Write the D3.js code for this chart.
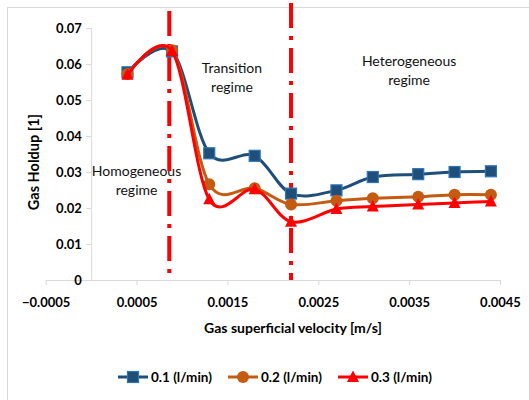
<!DOCTYPE html>
<html><head><meta charset="utf-8">
<script src="https://cdn.jsdelivr.net/npm/d3@7"></script>
<style>body{margin:0;background:#fff}svg{display:block}text{font-family:Lato,"Open Sans",sans-serif}</style>
</head><body>
<script>
const velocity = [0.0004, 0.00089, 0.0013, 0.0018, 0.0022, 0.0027, 0.0031, 0.0036, 0.0040, 0.0044];
const flow01 = [0.0577, 0.0635, 0.0352, 0.0345, 0.0240, 0.0249, 0.0286, 0.0294, 0.0300, 0.0302];
const flow02 = [0.0572, 0.0638, 0.0266, 0.0255, 0.0210, 0.0220, 0.0227, 0.0231, 0.0237, 0.0237];
const flow03 = [0.0570, 0.0636, 0.0224, 0.0252, 0.0162, 0.0197, 0.0204, 0.0210, 0.0214, 0.0218];
const seriesNames = ["0.1 (l/min)", "0.2 (l/min)", "0.3 (l/min)"];
const xTicks = [-0.0005, 0.0005, 0.0015, 0.0025, 0.0035, 0.0045];
const yTicks = [0, 0.01, 0.02, 0.03, 0.04, 0.05, 0.06, 0.07];
const boundaries = [0.00086, 0.0022];
const regimeLabels = [
  {x: 0.0005, y: 0.029, lines: ["Homogeneous", "regime"]},
  {x: 0.00155, y: 0.0575, lines: ["Transition", "regime"]},
  {x: 0.0035, y: 0.0595, lines: ["Heterogeneous", "regime"]}
];

const W = 529, H = 400;
const svg = d3.select("body").append("svg").attr("width", W).attr("height", H);
svg.append("rect").attr("x", 7.5).attr("y", 7.5).attr("width", 600).attr("height", 600)
  .attr("fill", "none").attr("stroke", "#d9d9d9");

const x = d3.scaleLinear().domain([-0.0005, 0.0045]).range([45.7, 500]);
const y = d3.scaleLinear().domain([0, 0.07]).range([280, 28]);

// axes
const xAxis = svg.append("g").attr("transform", `translate(0,${y(0)})`)
  .call(d3.axisBottom(x).tickValues(xTicks).tickSize(5).tickFormat(d => d3.format("")(+d.toFixed(4))));
xAxis.select(".domain").attr("stroke", "#d9d9d9").attr("d", `M${x(-0.0005)},0.5H${x(0.0045)}`);
xAxis.selectAll(".tick line").attr("stroke", "#d9d9d9");
xAxis.selectAll(".tick text").attr("font-size", 13).attr("font-weight", "bold").attr("fill", "#000").attr("dy", "1.45em");

const yAxis = svg.append("g").attr("transform", `translate(${x(0)},0)`)
  .call(d3.axisLeft(y).tickValues(yTicks).tickSize(5).tickFormat(d => d === 0 ? "0" : d3.format(".2f")(d)));
yAxis.select(".domain").attr("stroke", "#d9d9d9").attr("d", `M0.5,${y(0.07)}V${y(0)}`);
yAxis.selectAll(".tick line").attr("stroke", "#d9d9d9");
yAxis.selectAll(".tick text").attr("font-size", 13).attr("font-weight", "bold").attr("fill", "#000").attr("dx", "-0.1em");

// titles
svg.append("text").attr("x", 293).attr("y", 333).attr("text-anchor", "middle")
  .attr("font-size", 14).attr("font-weight", "bold").text("Gas superficial velocity [m/s]");
svg.append("text").attr("transform", "translate(39,162) rotate(-90)").attr("text-anchor", "middle")
  .attr("font-size", 14.5).attr("font-weight", "bold").text("Gas Holdup [1]");

// regime labels
regimeLabels.forEach(r => {
  const t = svg.append("text").attr("text-anchor", "middle").attr("font-size", 14).attr("fill", "#111");
  r.lines.forEach((l, i) => t.append("tspan").attr("x", x(r.x)).attr("y", y(r.y) + i * 19).text(l));
});

// boundaries
const tops = [11, 3];
boundaries.forEach((b, i) => {
  svg.append("line").attr("x1", x(b)).attr("x2", x(b)).attr("y1", tops[i]).attr("y2", y(0))
    .attr("stroke", "#ff0000").attr("stroke-width", 4).attr("stroke-dasharray", "25,8,4,8");
});

const colors = ["#1f4e79", "#c55a11", "#ff0000"];
const all = [flow01, flow02, flow03];
const line = d3.line().x((d, i) => x(velocity[i])).y(d => y(d)).curve(d3.curveCardinal.tension(0));

all.forEach((vals, k) => {
  svg.append("path").attr("d", line(vals)).attr("fill", "none").attr("stroke", colors[k])
    .attr("stroke-width", 3).attr("stroke-linejoin", "round");
  const g = svg.append("g");
  vals.forEach((v, i) => drawMarker(g, k, x(velocity[i]), y(v)));
});

function drawMarker(g, k, cx, cy) {
  if (k === 0) {
    g.append("rect").attr("x", cx - 5.5).attr("y", cy - 5.5).attr("width", 11).attr("height", 11)
      .attr("fill", "#1f4e79").attr("stroke", "#2e75b6").attr("stroke-width", 1.2);
  } else if (k === 1) {
    g.append("circle").attr("cx", cx).attr("cy", cy).attr("r", 6).attr("fill", "#c55a11");
  } else {
    g.append("path").attr("d", `M${cx},${cy - 6.5}L${cx + 6},${cy + 5}L${cx - 6},${cy + 5}Z`).attr("fill", "#ff0000");
  }
}

// legend
const legX = [118, 228, 338];
seriesNames.forEach((n, k) => {
  const lx = legX[k], ly = 377;
  svg.append("line").attr("x1", lx).attr("x2", lx + 30).attr("y1", ly).attr("y2", ly)
    .attr("stroke", colors[k]).attr("stroke-width", 3);
  drawMarker(svg, k, lx + 15, ly);
  svg.append("text").attr("x", lx + 33).attr("y", ly).attr("dy", "0.35em")
    .attr("font-size", 13.5).attr("font-weight", "bold").text(n);
});
</script>
</body></html>
